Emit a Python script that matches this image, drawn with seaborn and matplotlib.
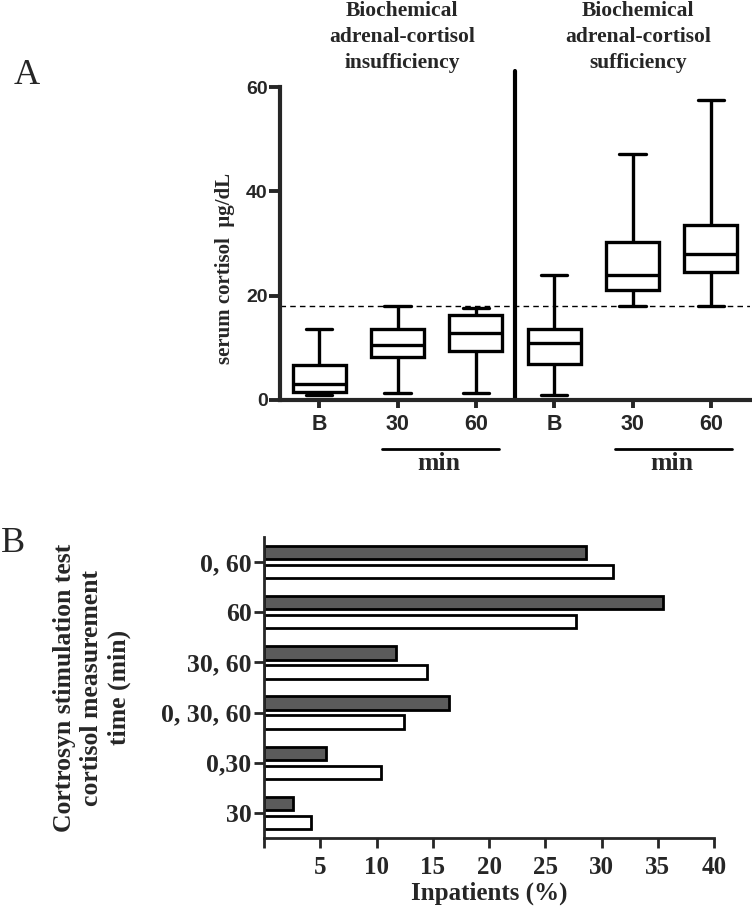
import numpy as np
import pandas as pd
import matplotlib
matplotlib.use("Agg")
import matplotlib.pyplot as plt
import seaborn as sns

# ---------------- Data ----------------
# Panel A: box summaries (whisker low, Q1, median, Q3, whisker high), serum cortisol ug/dL
box_keys = ["insuff B", "insuff 30", "insuff 60", "suff B", "suff 30", "suff 60"]
box_tick_labels = ["B", "30", "60", "B", "30", "60"]
box_low = [0.9, 1.3, 1.3, 1.0, 18.0, 18.0]
box_q1 = [1.5, 8.2, 9.3, 6.9, 21.1, 24.5]
box_median = [3.1, 10.6, 12.9, 10.9, 24.0, 28.0]
box_q3 = [6.8, 13.6, 16.2, 13.6, 30.3, 33.6]
box_high = [13.6, 18.0, 17.7, 24.0, 47.1, 57.6]
threshold = 18.0
header_left = "Biochemical\nadrenal-cortisol\ninsufficiency"
header_right = "Biochemical\nadrenal-cortisol\nsufficiency"

# Panel B: inpatients (%) by cortrosyn measurement time
time_categories = ["0, 60", "60", "30, 60", "0, 30, 60", "0,30", "30"]
series_dark = [28.6, 35.5, 11.7, 16.4, 5.5, 2.6]
series_white = [31.0, 27.7, 14.5, 12.4, 10.4, 4.2]
x_ticks_b = [0, 5, 10, 15, 20, 25, 30, 35, 40]
x_ticklabels_b = ["", "5", "10", "15", "20", "25", "30", "35", "40"]

# ---------------- Build tables ----------------
rows = []
for k, lo, q1, md, q3, hi in zip(box_keys, box_low, box_q1, box_median, box_q3, box_high):
    for v in (lo, q1, md, q3, hi):
        rows.append({"group": k, "cortisol": v})
df_a = pd.DataFrame(rows)

df_b = pd.DataFrame({
    "time": time_categories * 2,
    "pct": series_dark + series_white,
    "series": ["dark"] * len(time_categories) + ["white"] * len(time_categories),
})

# ---------------- Style ----------------
sns.set_style("ticks")
plt.rcParams["font.family"] = ["Liberation Serif", "DejaVu Serif"]
plt.rcParams["mathtext.fontset"] = "stix"

W, H = 752, 911
fig = plt.figure(figsize=(W / 100, H / 100), dpi=100)

def fx(px):
    return px / W

def fy(py):
    return 1 - py / H

# ---------------- Panel A ----------------
axA = fig.add_axes([fx(280), fy(400), fx(750) - fx(280), fy(87) - fy(400)])
sns.boxplot(data=df_a, x="group", y="cortisol", order=box_keys, whis=(0, 100),
            width=0.68, color="white", linecolor="black", linewidth=2.4,
            saturation=1, fliersize=0, ax=axA)
axA.set_xlim(-0.5, 5.5)
axA.set_ylim(0, 60)
axA.axhline(threshold, color="black", lw=1.0, ls=(0, (4, 3)), zorder=0.5)
axA.axvline(2.5, ymin=0, ymax=(400 - 71) / 313, color="black", lw=3.0, clip_on=False)
for s in ["top", "right"]:
    axA.spines[s].set_visible(False)
for s in ["left", "bottom"]:
    axA.spines[s].set_linewidth(3.0)
axA.set_yticks([0, 20, 40, 60])
axA.set_yticklabels(["0", "20", "40", "60"], fontfamily="Liberation Sans",
                    fontweight="heavy", fontsize=14)
axA.set_xticks(range(6))
axA.set_xticklabels(box_tick_labels, fontfamily="Liberation Sans",
                    fontweight="heavy", fontsize=15.5)
axA.tick_params(axis="y", length=8, width=2.8, pad=1, direction="out")
axA.tick_params(axis="x", length=6, width=2.8, pad=4, direction="out")
axA.set_xlabel("")
axA.set_ylabel("serum cortisol  μg/dL", fontweight="bold", fontsize=15, va="center")
axA.yaxis.set_label_coords((225 - 280) / 470, (400 - 268) / 313)

trA = axA.get_xaxis_transform()
for x0, x1, xm in [(0.8, 2.3, 1.53), (3.78, 5.27, 4.5)]:
    axA.plot([x0, x1], [(400 - 449) / 313] * 2, color="black", lw=2.0,
             transform=trA, clip_on=False)
    axA.text(xm, (400 - 464) / 313, "min", transform=trA, ha="center", va="center",
             fontsize=18.5, fontweight="bold")

fig.text(fx(402), fy(37), header_left, ha="center", va="center", fontsize=15.5,
         fontweight="bold", linespacing=1.42)
fig.text(fx(638), fy(37), header_right, ha="center", va="center", fontsize=15.5,
         fontweight="bold", linespacing=1.42)
fig.text(fx(27), fy(76), "A", ha="center", va="center", fontsize=26)

# ---------------- Panel B ----------------
axB = fig.add_axes([fx(264), fy(838), fx(714) - fx(264), fy(537) - fy(838)])
sns.barplot(data=df_b, y="time", x="pct", hue="series", order=time_categories,
            hue_order=["dark", "white"], palette={"dark": "#5b5b5b", "white": "white"},
            orient="h", width=0.76, gap=0.3, saturation=1, errorbar=None,
            edgecolor="black", linewidth=2.0, legend=False, ax=axB)
axB.set_xlim(0, 40)
axB.set_ylim(5.5, -0.5)
for s in ["top", "right"]:
    axB.spines[s].set_visible(False)
for s in ["left", "bottom"]:
    axB.spines[s].set_linewidth(2.0)
axB.set_xticks(x_ticks_b)
axB.set_xticklabels(x_ticklabels_b, fontweight="bold", fontsize=18)
axB.set_yticks(range(len(time_categories)))
axB.set_yticklabels(time_categories, fontweight="bold", fontsize=18.5)
axB.tick_params(axis="both", length=7, width=2.0, direction="out")
axB.tick_params(axis="y", pad=2)
axB.tick_params(axis="x", pad=6)
axB.set_xlabel("Inpatients (%)", fontweight="bold", fontsize=18, labelpad=2)
axB.set_ylabel("Cortrosyn stimulation test\ncortisol measurement\ntime (min)",
               fontweight="bold", fontsize=18.5, linespacing=1.25, va="center")
axB.yaxis.set_label_coords((92 - 264) / 450, 0.5)
fig.text(fx(13), fy(544), "B", ha="center", va="center", fontsize=26)

fig.savefig("out.png", dpi=100)
